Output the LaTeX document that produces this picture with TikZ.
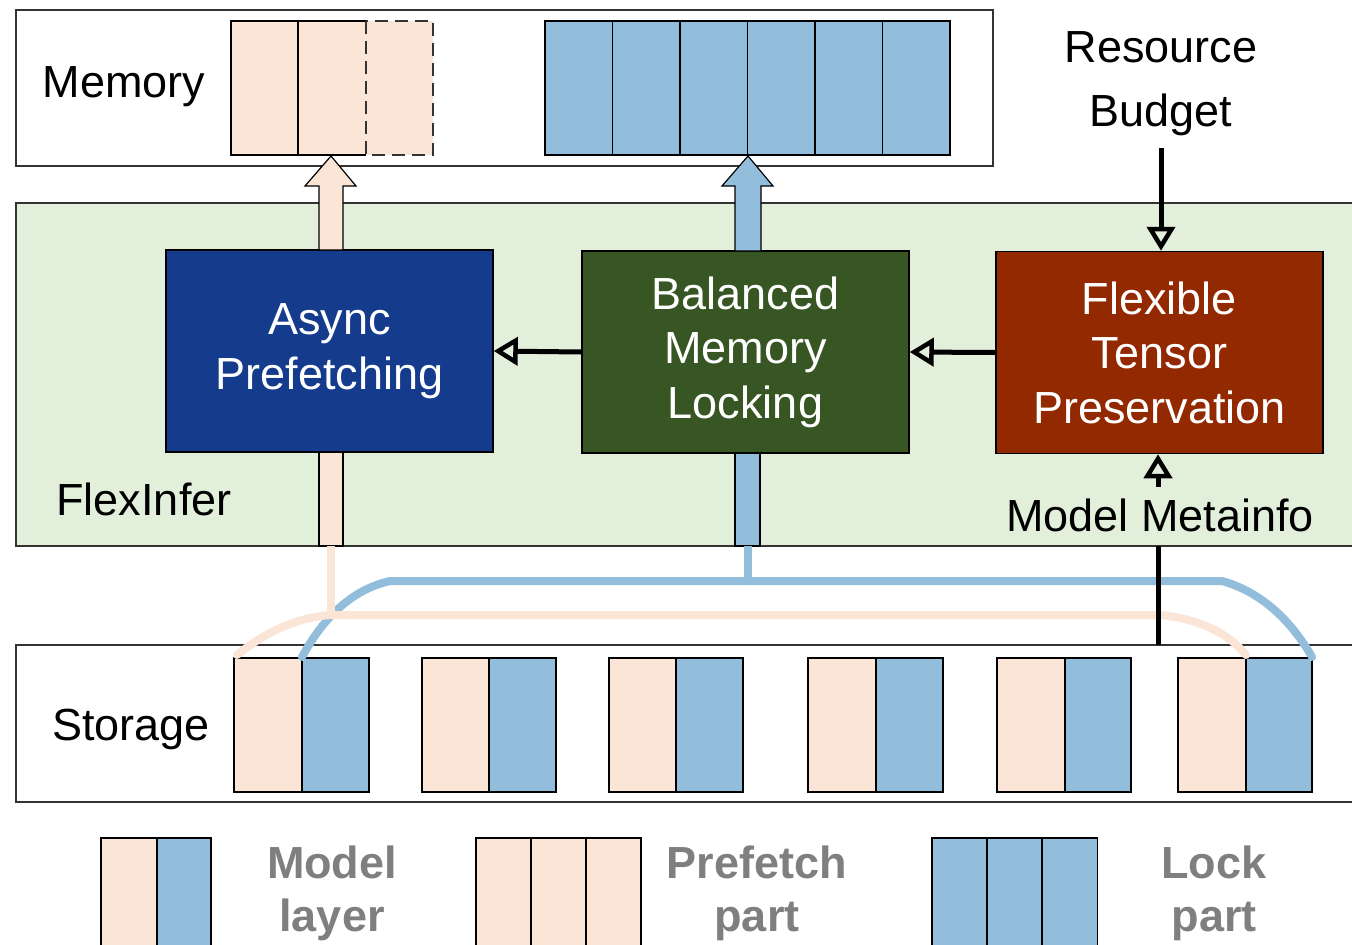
\documentclass[tikz,border=0pt]{standalone}
\usepackage{fontspec}
\setmainfont{Liberation Sans}
\usetikzlibrary{arrows.meta}
\definecolor{pinkc}{HTML}{FBE5D6}
\definecolor{bluec}{HTML}{92BEDC}
\definecolor{panelg}{HTML}{E2EFDA}
\definecolor{asyncc}{HTML}{153C8C}
\definecolor{balc}{HTML}{375623}
\definecolor{flexc}{HTML}{922900}
\definecolor{legg}{HTML}{7F7F7F}
\begin{document}
\begin{tikzpicture}[x=1pt,y=-1pt,
  lbl/.style={font=\fontsize{45}{54}\selectfont, inner sep=0pt, align=center},
  leg/.style={font=\fontsize{45}{53}\selectfont\bfseries, text=legg, inner sep=0pt, align=center},
  procbox/.style={draw=black, line width=1.5pt, inner sep=0pt, text=white, align=center,
    font=\fontsize{45}{54.5}\selectfont, minimum width=327pt, minimum height=202pt},
  frame/.style={draw=black!80, line width=1.5pt},
  pcell/.style={fill=pinkc, draw=black, line width=1.3pt},
  bcell/.style={fill=bluec, draw=black, line width=1.3pt},
  blk/.style={line width=5pt, -{Triangle[open, width=28pt, length=24pt, line width=4.5pt]}},
  pband/.style={line width=8pt, pinkc},
  bband/.style={line width=8pt, bluec}
]
\useasboundingbox (0,0) rectangle (1352,945);
\fill[white] (0,0) rectangle (1352,945);

% memory panel
\node[frame, minimum width=977pt, minimum height=156pt, inner sep=0pt] (mem) at (504.5,88) {};
\node[lbl] (memlbl) at (124,87) {Memory};
\draw[pcell] (231,21) rectangle (298,155);
\fill[pinkc] (298,21) rectangle (366,155);
\draw[black, line width=1.3pt] (366,21) -- (298,21) -- (298,155) -- (366,155);
\draw[black!60, line width=0.8pt] (366,21) -- (366,155);
\draw[pcell, draw=black!80, line width=1.6pt, dash pattern=on 13pt off 7pt] (366,21) rectangle (433,155);
\foreach \i in {0,...,5} {
  \draw[bcell] (545+67.5*\i,21) rectangle (612.5+67.5*\i,155);
}

% FlexInfer panel
\fill[panelg] (16,203) rectangle (1352,546);
\draw[frame] (1352,203) -| (16,546) -- (1352,546);
\node[lbl] (flexinfer) at (144,499) {FlexInfer};

\node[procbox, fill=asyncc] (async) at (329.5,351) {Async\\Prefetching};
\node[procbox, fill=balc] (bal) at (745.5,352) {Balanced\\Memory\\Locking};
\node[procbox, fill=flexc] (flex) at (1159.5,352.5) {Flexible\\Tensor\\Preservation};

% block arrows up to memory
\coordinate (pa) at (331,250);
\coordinate (ba) at (748,251);
\filldraw[fill=pinkc, draw=black, line width=1.2pt]
  ([xshift=-12pt]pa) -- ++(0,-64) -- ++(-14,0) -- (331,156) -- (356,186) -- (343,186) -- ([xshift=12pt]pa) -- cycle;
\filldraw[fill=bluec, draw=black, line width=1.2pt]
  ([xshift=-13pt]ba) -- ++(0,-65) -- ++(-13,0) -- (748,156) -- (773,186) -- (761,186) -- ([xshift=13pt]ba) -- cycle;

% bands below boxes
\filldraw[fill=pinkc, draw=black, line width=1.2pt] (319,452) rectangle (343,546);
\filldraw[fill=bluec, draw=black, line width=1.2pt] (735,453) rectangle (760,546);

% storage panel
\draw[frame] (1352,645) -| (16,802) -- (1352,802);
\node[lbl] (storlbl) at (131,729) {Storage};
\foreach \a/\b/\c in {234/302/369, 422/489/556, 609/676/743, 808/876/943, 997/1065/1131, 1178/1246/1312} {
  \draw[pcell] (\a,658) rectangle (\b,792);
  \draw[bcell] (\b,658) rectangle (\c,792);
}

% lines from storage
\draw[bband] (748,546) -- (748,581);
\draw[bband, line cap=round] (302,657) .. controls (322,620) and (350,590) .. (390,581) -- (1222,581)
  .. controls (1262,592) and (1292,622) .. (1312,657);
\draw[pband] (331,546) -- (331,615);
\draw[pband, line cap=round] (237,655) .. controls (268,630) and (300,617) .. (331,615) -- (1160,615)
  .. controls (1195,618) and (1228,632) .. (1246,655);

% resource budget
\node[lbl, font=\fontsize{45}{64}\selectfont] (rb) at (1161,84) {Resource\\Budget};
\coordinate (rbs) at (1161,148);
\draw[blk] (rbs) -- (rbs |- flex.north);

% model metainfo
\node[lbl] (mm) at (1160,515) {Model Metainfo};
\coordinate (mmt) at (1158,487);
\draw[blk] (mmt) -- (mmt |- flex.south);
\coordinate (mmb) at (1158,546);
\coordinate (stt) at (1158,645);
\draw[line width=5pt] (mmb) -- (stt);

% box connectors
\draw[blk] (bal.west) -- (async.east);
\draw[blk] (flex.west) -- (bal.east);

% legend
\draw[pcell] (101,838) rectangle (157,960);
\draw[bcell] (157,838) rectangle (211,960);
\node[leg] (l1) at (332,893) {Model\\layer};
\foreach \x in {476,531,586} { \draw[pcell] (\x,838) rectangle (\x+55,960); }
\node[leg] (l2) at (757,893) {Prefetch\\part};
\foreach \x in {932,987,1042} { \draw[bcell] (\x,838) rectangle (\x+55.5,960); }
\node[leg] (l3) at (1214,893) {Lock\\part};
\end{tikzpicture}
\end{document}
